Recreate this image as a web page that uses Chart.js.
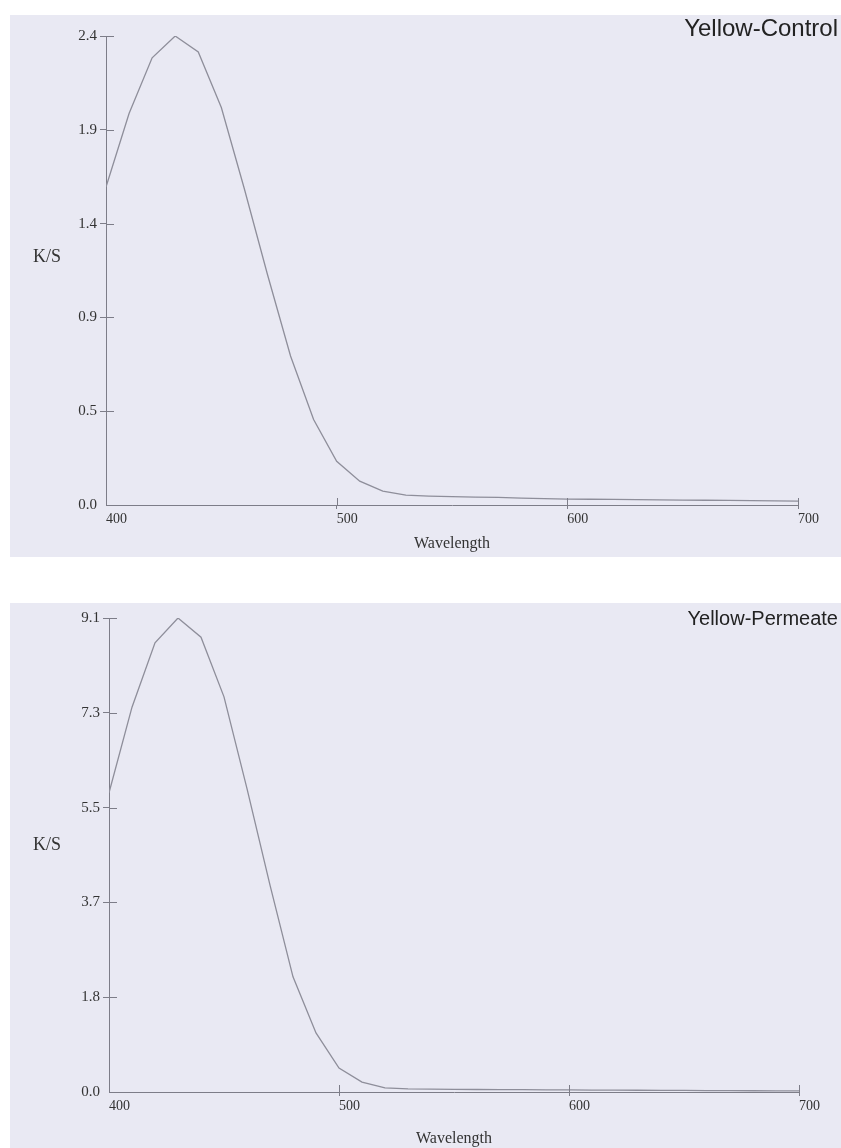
<!DOCTYPE html>
<html>
<head>
<meta charset="utf-8">
<script src="https://cdn.jsdelivr.net/npm/chart.js@4.4.0/dist/chart.umd.min.js"></script>
<style>
  html, body { margin: 0; padding: 0; background: #fff; }
  body { width: 841px; height: 1148px; position: relative; overflow: hidden; }
  .panel { position: absolute; left: 10px; width: 831px; background: #e9e9f3; }
  #panelTop { top: 15px; height: 542px; }
  #panelBottom { top: 603px; height: 545px; }
  .panel canvas { position: absolute; left: 0; top: 0; }
  .title { position: absolute; right: 3px; top: 1px; line-height: 1; font-family: "Liberation Sans", Arial, sans-serif; font-size: 24px; color: #222; }
  #panelBottom .title { top: 5px; font-size: 20px; }
  .ylab { position: absolute; left: 23px; top: 232px; line-height: 1; font-family: "Liberation Serif", "Times New Roman", serif; font-size: 18px; color: #333; }
</style>
</head>
<body>
<div class="panel" id="panelTop">
  <canvas id="controlChart" width="831" height="542"></canvas>
  <div class="title">Yellow-Control</div>
  <div class="ylab">K/S</div>
</div>
<div class="panel" id="panelBottom">
  <canvas id="permeateChart" width="831" height="545"></canvas>
  <div class="title">Yellow-Permeate</div>
  <div class="ylab">K/S</div>
</div>
<script>
// Data (K/S vs wavelength, 10 nm steps)
const wavelengths = [400, 410, 420, 430, 440, 450, 460, 470, 480, 490, 500,
                     510, 520, 530, 540, 550, 560, 570, 580, 590, 600,
                     610, 620, 630, 640, 650, 660, 670, 680, 690, 700];

const controlKS = [1.60, 1.97, 2.25, 2.36, 2.28, 2.00, 1.59, 1.16, 0.75, 0.43, 0.22,
                   0.12, 0.07, 0.05, 0.045, 0.042, 0.04, 0.038, 0.035, 0.032, 0.03,
                   0.029, 0.028, 0.027, 0.026, 0.025, 0.024, 0.023, 0.022, 0.021, 0.02];

const permeateKS = [5.77, 7.42, 8.66, 9.14, 8.77, 7.62, 5.85, 3.99, 2.22, 1.14, 0.46,
                    0.19, 0.08, 0.06, 0.055, 0.05, 0.048, 0.046, 0.044, 0.042, 0.04,
                    0.038, 0.036, 0.034, 0.032, 0.03, 0.028, 0.026, 0.024, 0.022, 0.02];

const xTicks = [400, 500, 600, 700];
const controlTickLabels = ['0.0', '0.5', '0.9', '1.4', '1.9', '2.4'];
const permeateTickLabels = ['0.0', '1.8', '3.7', '5.5', '7.3', '9.1'];
const controlMax = 2.36;
const permeateMax = 9.14;

const axisColor = '#7d7d88';
const lineColor = '#8e8e9a';
const textColor = '#333333';
const serif = '"Liberation Serif", "Times New Roman", serif';

// short tick marks on the inside of both axes
const innerTicks = {
    id: 'innerTicks',
    afterDraw(chart) {
        const { ctx, chartArea, scales: { x, y } } = chart;
        ctx.save();
        ctx.strokeStyle = axisColor;
        ctx.lineWidth = 1;
        ctx.beginPath();
        x.ticks.forEach((t, i) => {
            if (i === 0) return;
            const px = Math.round(x.getPixelForValue(t.value)) + 0.5;
            ctx.moveTo(px, chartArea.bottom);
            ctx.lineTo(px, chartArea.bottom - 7);
        });
        y.ticks.forEach((t, i) => {
            if (i === 0) return;
            const py = Math.round(y.getPixelForValue(t.value)) + 0.5;
            ctx.moveTo(chartArea.left, py);
            ctx.lineTo(chartArea.left + 8, py);
        });
        ctx.stroke();
        ctx.restore();
    }
};

function makeChart(id, values, yMax, yLabels, g) {
    const ctx = document.getElementById(id).getContext('2d');
    return new Chart(ctx, {
        type: 'line',
        data: {
            datasets: [{
                data: wavelengths.map((w, i) => ({ x: w, y: values[i] })),
                borderColor: lineColor,
                borderWidth: 1.3,
                pointRadius: 0,
                tension: 0,
                fill: false,
            }]
        },
        options: {
            responsive: false,
            animation: false,
            layout: { padding: { top: g.padTop, right: g.padRight, left: 0, bottom: 0 } },
            plugins: { legend: { display: false }, tooltip: { enabled: false } },
            scales: {
                x: {
                    type: 'linear',
                    min: 400,
                    max: 700,
                    afterBuildTicks: (scale) => { scale.ticks = xTicks.map(v => ({ value: v })); },
                    afterFit: (scale) => { scale.height = g.xAxisHeight; },
                    border: { display: true, color: axisColor, width: 1 },
                    grid: {
                        drawOnChartArea: false,
                        tickLength: 4,
                        tickColor: (c) => c.index === 0 ? 'rgba(0,0,0,0)' : axisColor,
                    },
                    ticks: {
                        align: 'start',
                        padding: 2,
                        maxRotation: 0,
                        color: textColor,
                        font: { family: serif, size: 14 },
                        callback: (v) => String(v),
                    },
                    title: {
                        display: true,
                        text: 'Wavelength',
                        color: textColor,
                        font: { family: serif, size: 16 },
                        padding: { top: 0, bottom: g.titlePad },
                    }
                },
                y: {
                    min: 0,
                    max: yMax,
                    afterBuildTicks: (scale) => {
                        scale.ticks = yLabels.map((_, i) => ({ value: yMax * i / (yLabels.length - 1) }));
                    },
                    afterFit: (scale) => { scale.width = g.yAxisWidth; },
                    border: { display: true, color: axisColor, width: 1 },
                    grid: {
                        drawOnChartArea: false,
                        tickLength: 6,
                        tickColor: (c) => c.index === 0 ? 'rgba(0,0,0,0)' : axisColor,
                    },
                    ticks: {
                        padding: 3,
                        color: textColor,
                        font: { family: serif, size: 15 },
                        callback: (v, i) => yLabels[i],
                    }
                }
            }
        },
        plugins: [innerTicks]
    });
}

makeChart('controlChart', controlKS, controlMax, controlTickLabels,
    { yAxisWidth: 96, xAxisHeight: 52, padTop: 21, padRight: 43, titlePad: 4 });

makeChart('permeateChart', permeateKS, permeateMax, permeateTickLabels,
    { yAxisWidth: 99, xAxisHeight: 56, padTop: 15, padRight: 42, titlePad: 0 });
</script>
</body>
</html>
